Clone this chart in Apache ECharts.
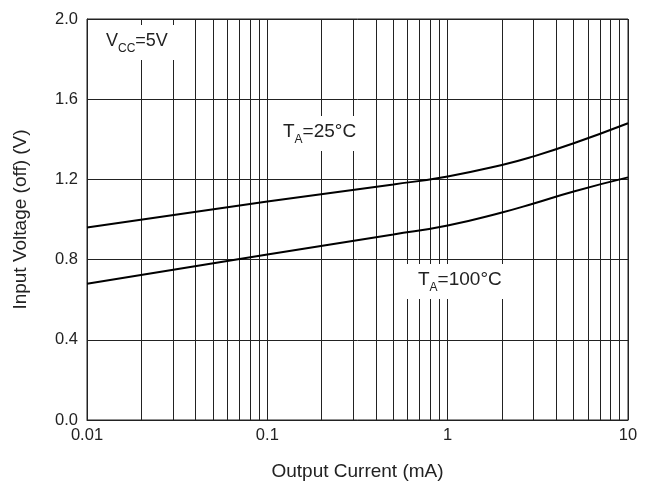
<!DOCTYPE html>
<html>
<head>
<meta charset="utf-8">
<script src="https://cdn.jsdelivr.net/npm/echarts@6/dist/echarts.min.js"></script>
<style>
html,body{margin:0;padding:0;background:#fff;}
#chart{width:654px;height:486px;}
</style>
</head>
<body>
<div id="chart"></div>
<script>
/* data */
var current = [0.01, 0.1, 0.5, 1, 2, 3, 5, 10];
var vOff25 = [0.96, 1.09, 1.175, 1.215, 1.272, 1.315, 1.38, 1.48];
var vOff100 = [0.68, 0.825, 0.925, 0.97, 1.035, 1.08, 1.14, 1.21];
var minorX = [0.02,0.03,0.04,0.05,0.06,0.07,0.08,0.09,
              0.2,0.3,0.4,0.5,0.6,0.7,0.8,0.9,
              2,3,4,5,6,7,8,9];

var font = 'Liberation Sans, Arial, sans-serif';

function pairs(xs, ys){
    return xs.map(function(x, i){ return [x, ys[i]]; });
}

var subStyle = { fontSize: 12, fontFamily: font, fill: '#222', lineHeight: 28, verticalAlign: 'bottom' };
function tag(text, left, top, size){
    return {
        type: 'text', left: left, top: top, z: 10,
        style: {
            text: text,
            fill: '#222', font: size + 'px ' + font,
            backgroundColor: '#fff', padding: [2, 12, 5, 12],
            rich: { s: subStyle }
        }
    };
}

var option = {
    animation: false,
    textStyle: { fontFamily: font },
    grid: {
        left: 87, right: 26, top: 19, bottom: 65,
        show: true,
        borderColor: '#222',
        borderWidth: 1
    },
    xAxis: {
        type: 'log',
        logBase: 10,
        min: 0.01,
        max: 10,
        name: 'Output Current (mA)',
        nameLocation: 'middle',
        nameGap: 42,
        nameTextStyle: { fontSize: 19, color: '#222', fontFamily: font },
        axisLine: { show: true, lineStyle: { color: '#222', width: 1 } },
        axisTick: { show: false },
        axisLabel: {
            fontSize: 16.5, color: '#222', fontFamily: font, margin: 7,
            formatter: function(v){ return String(+v.toPrecision(3)); }
        },
        splitLine: { show: true, lineStyle: { color: '#222', width: 1 } }
    },
    yAxis: {
        type: 'value',
        min: 0,
        max: 2,
        interval: 0.4,
        name: 'Input Voltage (off) (V)',
        nameLocation: 'middle',
        nameGap: 57,
        nameTextStyle: { fontSize: 19, color: '#222', fontFamily: font },
        axisLine: { show: true, lineStyle: { color: '#222', width: 1 } },
        axisTick: { show: false },
        axisLabel: {
            fontSize: 16.5, color: '#222', fontFamily: font, margin: 9,
            formatter: function(v){ return v.toFixed(1); }
        },
        splitLine: { show: true, lineStyle: { color: '#222', width: 1 } }
    },
    series: [
        {
            name: 'minor',
            type: 'line',
            data: [],
            silent: true,
            markLine: {
                silent: true,
                symbol: 'none',
                label: { show: false },
                lineStyle: { color: '#222', width: 1, type: 'solid' },
                data: minorX.map(function(x){ return { xAxis: x }; })
            }
        },
        {
            name: 'TA=25°C',
            type: 'line',
            smooth: 0.5,
            showSymbol: false,
            z: 5,
            lineStyle: { color: '#000', width: 2 },
            data: pairs(current, vOff25)
        },
        {
            name: 'TA=100°C',
            type: 'line',
            smooth: 0.5,
            showSymbol: false,
            z: 5,
            lineStyle: { color: '#000', width: 2 },
            data: pairs(current, vOff100)
        }
    ],
    graphic: [
        tag('V{s|CC}=5V', 94, 25, 18),
        tag('T{s|A}=25°C', 271, 116, 19),
        tag('T{s|A}=100°C', 406, 264, 19)
    ]
};

var myChart = echarts.init(document.getElementById('chart'));
myChart.setOption(option);
</script>
</body>
</html>
